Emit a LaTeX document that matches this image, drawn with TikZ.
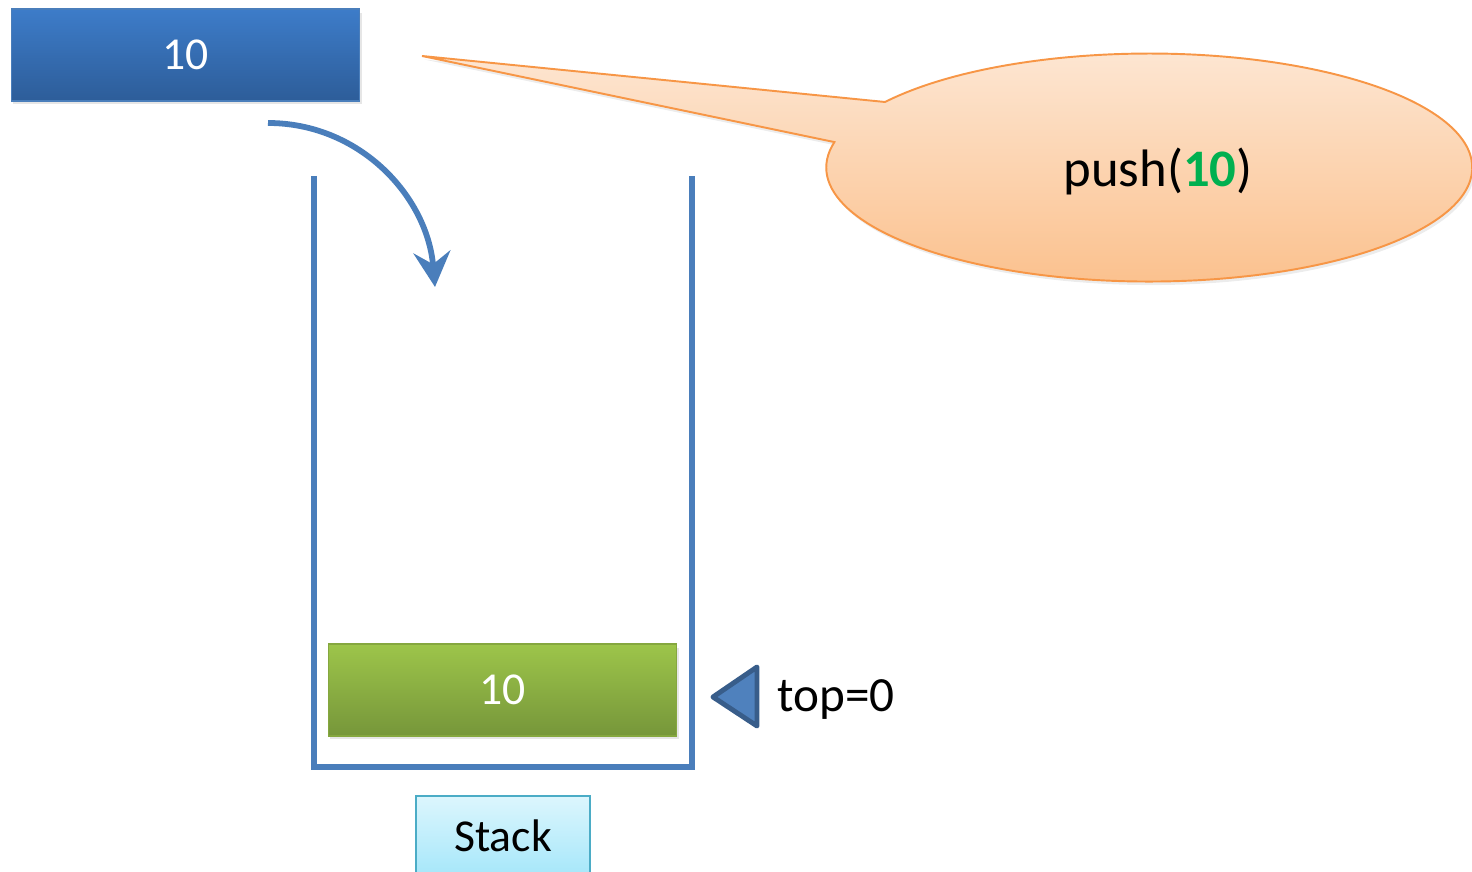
\documentclass[tikz,border=0pt]{standalone}
\usepackage{fontspec}
\setmainfont{Carlito}
\usepackage{tikz}
\usetikzlibrary{positioning,arrows.meta,shadows}
\usepackage{xcolor}

\definecolor{boxblue}{HTML}{3D7CC9}
\definecolor{boxbluedark}{HTML}{2D5D99}
\definecolor{stackline}{HTML}{4A7EBB}
\definecolor{leafgreen}{HTML}{9DC54A}
\definecolor{leafgreendark}{HTML}{76963A}
\definecolor{calloutlight}{HTML}{FDE8D6}
\definecolor{calloutdark}{HTML}{FBBF8A}
\definecolor{calloutline}{HTML}{F79646}
\definecolor{labelcyan}{HTML}{DCF6FD}
\definecolor{labelcyandark}{HTML}{A6E7FA}
\definecolor{labelline}{HTML}{4BACC6}
\definecolor{pushgreen}{HTML}{00B050}
\definecolor{pointerblue}{HTML}{4F81BD}
\definecolor{pointerline}{HTML}{385D8A}

\begin{document}
\begin{tikzpicture}[x=0.02cm, y=0.02cm,
    valbox/.style={rectangle, minimum width=6.98cm, minimum height=1.84cm, text=white,
        line width=0.6pt, font=\fontsize{26}{30}\selectfont,
        drop shadow={shadow xshift=1.2pt, shadow yshift=-2pt, opacity=0.2}},
    wall/.style={line width=3.3pt, stackline}]
                \useasboundingbox (0,0) rectangle (1472,872);

                % Callout bubble
                \path[draw=calloutline, line width=1.1pt, top color=calloutlight, bottom color=calloutdark,
                    drop shadow={shadow xshift=1.2pt, shadow yshift=-2pt, opacity=0.15}]
                    (422,816) -- (885,770)
                    arc[start angle=144.9, end angle=-192.9, x radius=323, y radius=114] -- cycle;
                \node[anchor=base, inner sep=0, font=\fontsize{30}{35}\selectfont] (pushlabel) at (1158,685)
                    {push(\textcolor{pushgreen}{\textbf{10}})};

                % Value to push
                \node[valbox, top color=boxblue, bottom color=boxbluedark, draw=stackline] (newval) at (185.5,817) {10};

                % Drop arrow
                \coordinate (dropstart) at (268,749);
                \coordinate (dropend) at (435,585);
                \draw[wall, -{Stealth[length=20pt, width=21pt, inset=7pt]}] (dropstart) to[out=0, in=95] (dropend);

                % Stack container
                \draw[wall] (314,696) -- (314,105) -- (692,105) -- (692,696);

                % Pushed element
                \node[valbox, top color=leafgreen, bottom color=leafgreendark, draw=leafgreen!85!black] (stacktop) at (502.5,182) {10};

                % Top pointer
                \draw[line width=2.8pt, draw=pointerline, fill=pointerblue, line join=round]
                    (713,175) -- (757,205) -- (757,146) -- cycle;
                \node[anchor=base west, inner sep=0, font=\fontsize{28}{32}\selectfont] (toplabel) at (777,160) {top=0};

                % Stack label
                \node[draw=labelline, line width=0.9pt, top color=labelcyan, bottom color=labelcyandark,
                    minimum width=3.48cm, minimum height=1.6cm, font=\fontsize{26}{30}\selectfont] (stacklabel) at (503,36) {Stack};
            \end{tikzpicture}
\end{document}
